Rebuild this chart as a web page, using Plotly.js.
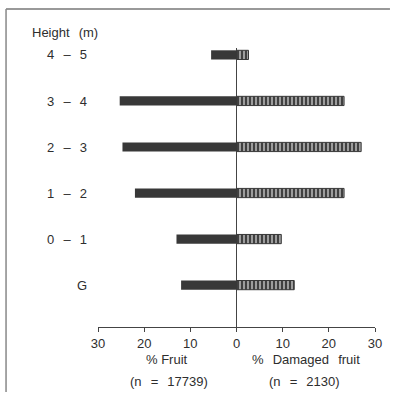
<!DOCTYPE html>
<html>
<head>
<meta charset="utf-8">
<script src="https://cdn.plot.ly/plotly-3.0.1.min.js"></script>
<style>html,body{margin:0;padding:0;background:#fff;}#chart{width:397px;height:394px;}</style>
</head>
<body>
<div id="chart"></div>
<script>
// Data
const heightClasses = ['G', '0 – 1', '1 – 2', '2 – 3', '3 – 4', '4 – 5'];
const fruitPct = [12, 13, 22, 24.7, 25.3, 5.5];      // % Fruit (left side)
const damagedPct = [12.5, 9.7, 23.3, 27, 23.3, 2.6]; // % Damaged fruit (right side)
const tickValues = [-30, -20, -10, 0, 10, 20, 30];
const tickLabels = ['30', '20', '10', '0', '10', '20', '30'];
const yTitle = 'Height (m)';
const leftTitle = '% Fruit';
const rightTitle = '% Damaged fruit';
const leftN = '(n = 17739)';
const rightN = '(n = 2130)';

const txt = '#2e2e2e';
const fontFam = 'Liberation Sans, Arial, sans-serif';
const wide = s => s.replace(/ /g, '\u2002\u2009');

const traces = [
  {
    type: 'bar', orientation: 'h', y: heightClasses,
    x: fruitPct.map(v => -v), width: 0.2,
    marker: {color: '#383838', line: {width: 0}},
    hoverinfo: 'skip', showlegend: false
  },
  {
    type: 'bar', orientation: 'h', y: heightClasses,
    x: damagedPct, width: 0.2,
    marker: {color: '#404040', line: {color: '#383838', width: 1},
      pattern: {shape: '|', bgcolor: '#404040', fgcolor: '#dcdcdc', size: 4, solidity: 0.3}},
    hoverinfo: 'skip', showlegend: false
  }
];

const layout = {
  width: 397, height: 394,
  margin: {l: 98, r: 22, t: 48, b: 67},
  paper_bgcolor: '#fff', plot_bgcolor: '#fff',
  barmode: 'relative',
  font: {family: fontFam, size: 13, color: txt},
  xaxis: {
    range: [-30, 30], tickvals: tickValues, ticktext: tickLabels,
    showgrid: false, zeroline: true, zerolinecolor: '#444', zerolinewidth: 1,
    showline: true, linecolor: '#444', linewidth: 1,
    ticks: 'outside', ticklen: 4, tickcolor: '#444',
    tickfont: {size: 13, color: txt}, fixedrange: true
  },
  yaxis: {
    type: 'category', range: [-0.91, 5.15],
    tickvals: heightClasses, ticktext: heightClasses.map(wide),
    showgrid: false, zeroline: false, showline: false, ticks: '',
    ticklabelstandoff: 10,
    tickfont: {size: 13, color: txt}, fixedrange: true
  },
  annotations: [
    {text: wide(yTitle), xref: 'paper', yref: 'paper', x: -0.119, y: 1.057, showarrow: false, xanchor: 'center', yanchor: 'middle', font: {size: 13, color: txt}},
    {text: leftTitle, xref: 'paper', yref: 'paper', x: 0.249, y: -0.118, showarrow: false, xanchor: 'center', yanchor: 'middle', font: {size: 13, color: txt}},
    {text: wide(rightTitle), xref: 'paper', yref: 'paper', x: 0.751, y: -0.118, showarrow: false, xanchor: 'center', yanchor: 'middle', font: {size: 13, color: txt}},
    {text: wide(leftN), xref: 'paper', yref: 'paper', x: 0.256, y: -0.194, showarrow: false, xanchor: 'center', yanchor: 'middle', font: {size: 13, color: txt}},
    {text: wide(rightN), xref: 'paper', yref: 'paper', x: 0.747, y: -0.194, showarrow: false, xanchor: 'center', yanchor: 'middle', font: {size: 13, color: txt}}
  ],
  shapes: [
    {type: 'line', xref: 'paper', yref: 'paper', x0: -0.332, x1: 1.054, y0: 1.14, y1: 1.14, line: {color: '#777', width: 1.5}},
    {type: 'line', xref: 'paper', yref: 'paper', x0: -0.332, x1: -0.332, y0: 1.14, y1: -0.233, line: {color: '#888', width: 1.5}}
  ]
};

Plotly.newPlot('chart', traces, layout, {staticPlot: true, displayModeBar: false});
</script>
</body>
</html>
